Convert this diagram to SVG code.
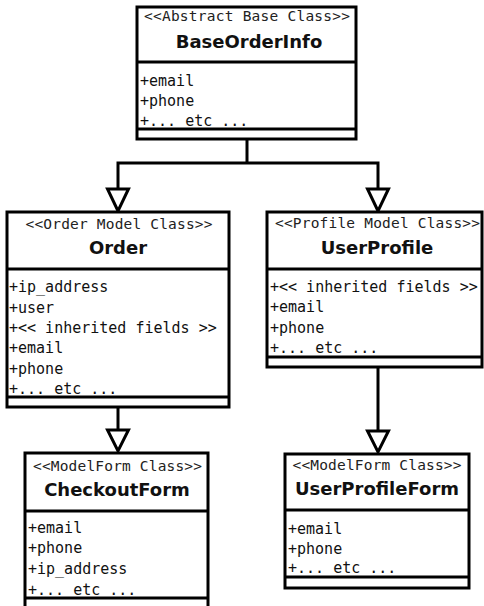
<svg xmlns="http://www.w3.org/2000/svg" width="484" height="606" viewBox="0 0 484 606">
<style>
.box{fill:#fff;stroke:#000;stroke-width:3}
.sep{stroke:#000;stroke-width:3;fill:none}
.st{font-family:"DejaVu Sans Mono",monospace;font-size:14.5px;fill:#222;text-anchor:middle}
.nm{font-family:"DejaVu Sans",sans-serif;font-weight:bold;font-size:18px;fill:#111;text-anchor:middle}
.at{font-family:"DejaVu Sans Mono",monospace;font-size:15px;fill:#111}
.con{stroke:#000;stroke-width:3;fill:none}
.tri{fill:#fff;stroke:#000;stroke-width:3;stroke-linejoin:miter}
</style>
<rect width="484" height="606" fill="#fff"/>
<g id="connectors">
<path class="con" d="M247,139 V163 M118,189 V163 H378 V189"/>
<polygon class="tri" points="107.5,189 128.5,189 118,211"/>
<polygon class="tri" points="367.5,189 388.5,189 378,211"/>
<path class="con" d="M118,407 V430"/>
<polygon class="tri" points="107.5,430 128.5,430 118,451"/>
<path class="con" d="M378,367 V431"/>
<polygon class="tri" points="367.5,431 388.5,431 378,452"/>
</g>
<g id="BaseOrderInfo">
<rect class="box" x="137" y="7" width="219" height="132"/>
<path class="sep" d="M137,62 H356 M137,129 H356"/>
<text class="st" x="247" y="21" textLength="206" lengthAdjust="spacing">&lt;&lt;Abstract Base Class&gt;&gt;</text>
<text class="nm" x="249" y="48">BaseOrderInfo</text>
<text class="at" x="140" y="86">+email</text>
<text class="at" x="140" y="106">+phone</text>
<text class="at" x="140" y="126">+... etc ...</text>
</g>
<g id="Order">
<rect class="box" x="7" y="212" width="222" height="195"/>
<path class="sep" d="M7,269 H229 M7,397 H229"/>
<text class="st" x="119" y="229" textLength="187" lengthAdjust="spacing">&lt;&lt;Order Model Class&gt;&gt;</text>
<text class="nm" x="118" y="254">Order</text>
<text class="at" x="9" y="292">+ip_address</text>
<text class="at" x="9" y="313">+user</text>
<text class="at" x="9" y="333">+&lt;&lt; inherited fields &gt;&gt;</text>
<text class="at" x="9" y="353">+email</text>
<text class="at" x="9" y="374">+phone</text>
<text class="at" x="9" y="394">+... etc ...</text>
</g>
<g id="UserProfile">
<rect class="box" x="267" y="212" width="215" height="155"/>
<path class="sep" d="M267,269 H482 M267,357 H482"/>
<text class="st" x="377.5" y="228" textLength="205" lengthAdjust="spacing">&lt;&lt;Profile Model Class&gt;&gt;</text>
<text class="nm" x="377" y="254">UserProfile</text>
<text class="at" x="270" y="292">+&lt;&lt; inherited fields &gt;&gt;</text>
<text class="at" x="270" y="312">+email</text>
<text class="at" x="270" y="333">+phone</text>
<text class="at" x="270" y="353">+... etc ...</text>
</g>
<g id="CheckoutForm">
<rect class="box" x="25" y="453" width="183" height="170"/>
<path class="sep" d="M25,511 H208 M25,598 H208"/>
<text class="st" x="117.5" y="471" textLength="169" lengthAdjust="spacing">&lt;&lt;ModelForm Class&gt;&gt;</text>
<text class="nm" x="117" y="496">CheckoutForm</text>
<text class="at" x="28" y="533">+email</text>
<text class="at" x="28" y="553">+phone</text>
<text class="at" x="28" y="574">+ip_address</text>
<text class="at" x="28" y="595">+... etc ...</text>
</g>
<g id="UserProfileForm">
<rect class="box" x="285" y="454" width="184" height="134"/>
<path class="sep" d="M285,510 H469 M285,577 H469"/>
<text class="st" x="377" y="470" textLength="169" lengthAdjust="spacing">&lt;&lt;ModelForm Class&gt;&gt;</text>
<text class="nm" x="377" y="495">UserProfileForm</text>
<text class="at" x="288" y="534">+email</text>
<text class="at" x="288" y="554">+phone</text>
<text class="at" x="288" y="573">+... etc ...</text>
</g>
</svg>
